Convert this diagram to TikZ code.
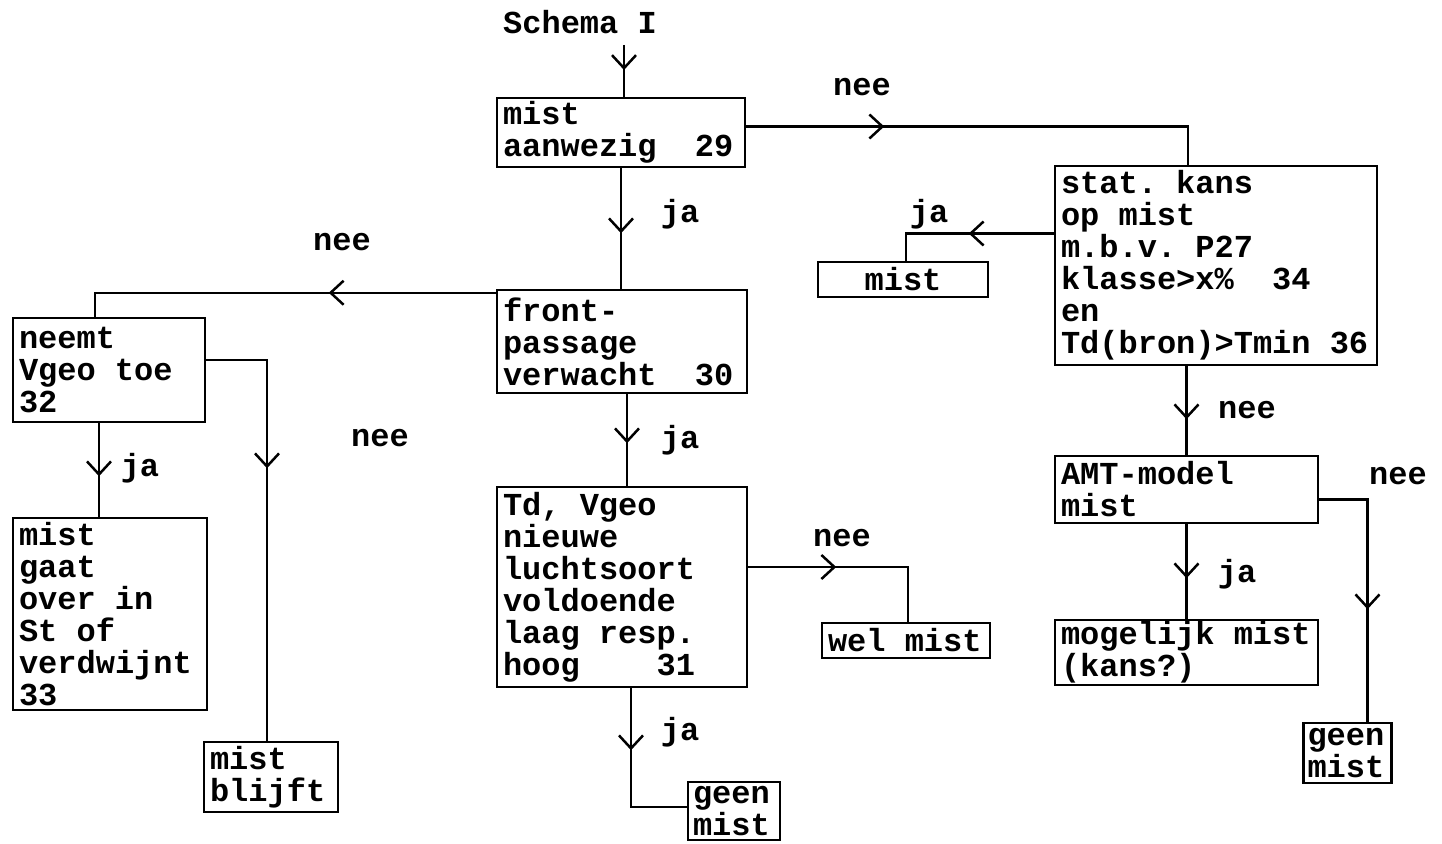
\documentclass[tikz,border=0pt]{standalone}
\usepackage{fontspec}
\setmainfont{Liberation Mono}
\usetikzlibrary{arrows.meta,decorations.markings,calc}
\newcommand\twfont{\fontsize{32}{32}\selectfont\bfseries}
\newcommand\tsp{\hspace*{19.2pt}}
\begin{document}
\begin{tikzpicture}[x=1pt,y=-1pt,
  font=\twfont,
  box/.style={draw, line width=2.5pt, inner xsep=6pt, inner ysep=0pt, align=left, anchor=center},
  lbl/.style={inner sep=0pt},
  conn/.style={line width=2.5pt},
  arr/.style={postaction={decorate}, decoration={markings, mark=at position #1 with {\arrow{Straight Barb[length=13pt,width=24pt]}}}}
]
\useasboundingbox (0,0) rectangle (1442,843);

% boxes
\node[box, text width=236pt, minimum height=69pt] (b1) at (621,132.5) {mist\\aanwezig\tsp\tsp 29};
\node[box, text width=310pt, minimum height=199pt] (stat) at (1216,265.5) {stat.\tsp kans\\op\tsp mist\\m.b.v.\tsp P27\\klasse>x\%\tsp\tsp 34\\en\\Td(bron)>Tmin\tsp 36};
\node[box, text width=158pt, minimum height=35pt, align=center] (mistr) at (903,279.5) {mist};
\node[box, text width=238pt, minimum height=103pt] (front) at (622,341.5) {front-\\passage\\verwacht\tsp\tsp 30};
\node[box, text width=180pt, minimum height=104pt] (neemt) at (109,370) {neemt\\Vgeo\tsp toe\\32};
\node[box, text width=251pt, minimum height=67pt] (amt) at (1186.5,489.5) {AMT-model\\mist};
\node[box, text width=238pt, minimum height=200pt] (td) at (622,587) {Td,\tsp Vgeo\\nieuwe\\luchtsoort\\voldoende\\laag\tsp resp.\\hoog\tsp\tsp\tsp\tsp 31};
\node[box, text width=182pt, minimum height=192pt] (gaat) at (110,614) {mist\\gaat\\over\tsp in\\St\tsp of\\verdwijnt\\33};
\node[box, text width=156pt, minimum height=35pt] (wel) at (906,640.5) {wel\tsp mist};
\node[box, text width=251pt, minimum height=65pt] (mog) at (1186.5,652.5) {mogelijk\tsp mist\\(kans?)};
\node[box, text width=80pt, minimum height=60pt, inner xsep=4pt] (geen2) at (1347.5,753) {geen\\mist};
\node[box, text width=122pt, minimum height=70pt] (blijft) at (271,777) {mist\\blijft};
\node[box, text width=82pt, minimum height=58pt, inner xsep=5pt] (geen1) at (734,811) {geen\\mist};

% labels
\node[lbl] (title) at (580,22) {Schema\tsp I};
\node[lbl] (l1) at (862,87) {nee};
\node[lbl] (l2) at (680,214) {ja};
\node[lbl] (l3) at (929,214) {ja};
\node[lbl] (l4) at (342,242) {nee};
\node[lbl] (l5) at (1247,410) {nee};
\node[lbl] (l6) at (380,438) {nee};
\node[lbl] (l7) at (680,440) {ja};
\node[lbl] (l8) at (140,468) {ja};
\node[lbl] (l9) at (1398,476) {nee};
\node[lbl] (l10) at (842,538) {nee};
\node[lbl] (l11) at (1237,574) {ja};
\node[lbl] (l12) at (680,732) {ja};

% connectors
\coordinate (start) at (624,45);
\draw[conn,arr=25pt] (start) -- (start |- b1.north);
\draw[conn,arr=138pt] ([yshift=6pt]b1.east) -| ([xshift=-28pt]stat.north);
\draw[conn,arr=85pt] ([yshift=32pt]stat.west) -| ([xshift=3pt]mistr.north);
\draw[conn,arr=53pt] (amt.north |- stat.south) -- (amt.north);
\draw[conn,arr=158pt] ([yshift=-10pt]amt.east) -| ([xshift=20pt]geen2.north);
\draw[conn,arr=54pt] (amt.south) -- (mog.north);
\draw[conn,arr=65pt] (b1.south) -- (b1.south |- front.north);
\draw[conn,arr=167pt] ([yshift=-4pt]front.north west) -| ([xshift=-14pt]neemt.north);
\draw[conn,arr=169pt] ([yshift=10pt]neemt.east) -| ([xshift=-4pt]blijft.north);
\draw[conn,arr=53pt] ([xshift=-10pt]neemt.south) -- ([xshift=-10pt]neemt.south |- gaat.north);
\draw[conn,arr=49pt] ([xshift=5pt]front.south) -- ([xshift=5pt]front.south |- td.north);
\draw[conn,arr=88pt] ([yshift=20pt]td.east) -| ([xshift=2pt]wel.north);
\draw[conn,arr=62pt] ([xshift=9pt]td.south) |- ([yshift=4pt]geen1.west);
\end{tikzpicture}
\end{document}
